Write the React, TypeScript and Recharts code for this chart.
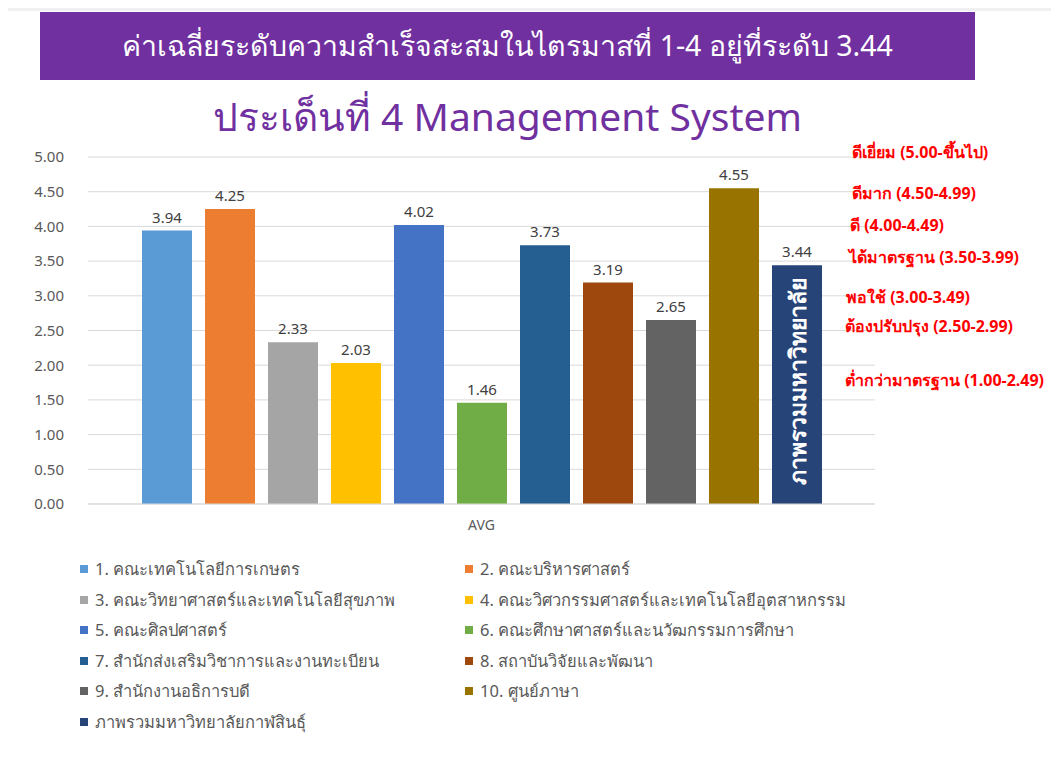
import React from "react";
import {
  Bar,
  BarChart,
  CartesianGrid,
  LabelList,
  XAxis,
  YAxis,
} from "recharts";

const seriesNames = [
  "1. คณะเทคโนโลยีการเกษตร",
  "2. คณะบริหารศาสตร์",
  "3. คณะวิทยาศาสตร์และเทคโนโลยีสุขภาพ",
  "4. คณะวิศวกรรมศาสตร์และเทคโนโลยีอุตสาหกรรม",
  "5. คณะศิลปศาสตร์",
  "6. คณะศึกษาศาสตร์และนวัฒกรรมการศึกษา",
  "7. สำนักส่งเสริมวิชาการและงานทะเบียน",
  "8. สถาบันวิจัยและพัฒนา",
  "9. สำนักงานอธิการบดี",
  "10. ศูนย์ภาษา",
  "ภาพรวมมหาวิทยาลัยกาฬสินธุ์",
];
const seriesValues = [3.94, 4.25, 2.33, 2.03, 4.02, 1.46, 3.73, 3.19, 2.65, 4.55, 3.44];
const seriesColors = [
  "#5B9BD5", "#ED7D31", "#A5A5A5", "#FFC000", "#4472C4", "#70AD47",
  "#255E91", "#9E480E", "#636363", "#997300", "#264478",
];
const category = "AVG";
const yTicks = [0, 0.5, 1, 1.5, 2, 2.5, 3, 3.5, 4, 4.5, 5];
const levelLabels = [
  "ดีเยี่ยม (5.00-ขึ้นไป)",
  "ดีมาก (4.50-4.99)",
  "ดี (4.00-4.49)",
  "ได้มาตรฐาน (3.50-3.99)",
  "พอใช้ (3.00-3.49)",
  "ต้องปรับปรุง (2.50-2.99)",
  "ต่ำกว่ามาตรฐาน (1.00-2.49)",
];
const levelPos = [
  [852, 152], [852, 193], [850, 225], [849, 257], [846, 297], [845, 326], [845, 380],
];
const overallText = "ภาพรวมมหาวิทยาลัย";

const FONT = "Tahoma, 'Noto Sans', 'DejaVu Sans', sans-serif";

const row: Record<string, string | number> = { name: category };
seriesValues.forEach((v, i) => (row["s" + i] = v));
const data = [row];

function VerticalLabel(props: any) {
  const { x, y, width, height } = props;
  const cx = x + width / 2;
  const cy = y + height / 2 - 3;
  return (
    <text
      x={cx}
      y={cy}
      transform={`rotate(-90 ${cx} ${cy})`}
      textAnchor="middle"
      dominantBaseline="central"
      fill="#ffffff"
      fontWeight="bold"
      fontSize={23}
      fontFamily={FONT}
    >
      {overallText}
    </text>
  );
}

export default function App() {
  return (
    <div
      style={{
        position: "relative",
        width: 1059,
        height: 772,
        background: "#f0f0f0",
        margin: -8,
        fontFamily: FONT,
        overflow: "hidden",
      }}
    >
      <div
        style={{
          position: "absolute",
          left: 7,
          top: 11,
          right: 0,
          bottom: 0,
          background: "#ffffff",
        }}
      />
      <div
        style={{
          position: "absolute",
          left: 40,
          top: 12,
          width: 935,
          height: 68,
          background: "#7030A0",
          color: "#ffffff",
          fontSize: 28.5,
          display: "flex",
          alignItems: "center",
          justifyContent: "center",
          whiteSpace: "nowrap",
        }}
      >
        ค่าเฉลี่ยระดับความสำเร็จสะสมในไตรมาสที่ 1-4 อยู่ที่ระดับ 3.44
      </div>
      <div
        style={{
          position: "absolute",
          left: 40,
          top: 86,
          width: 935,
          textAlign: "center",
          color: "#7030A0",
          fontSize: 39,
          whiteSpace: "nowrap",
        }}
      >
        ประเด็นที่ 4 Management System
      </div>

      <div style={{ position: "absolute", left: 0, top: 0 }}>
        <BarChart
          width={1059}
          height={544}
          data={data}
          margin={{ top: 157, right: 184, bottom: 0, left: 0 }}
          barSize={50}
          barGap={13}
        >
          <CartesianGrid vertical={false} stroke="#d9d9d9" />
          <XAxis
            dataKey="name"
            height={40}
            axisLine={{ stroke: "#d9d9d9" }}
            tickLine={false}
            tick={{ fill: "#595959", fontSize: 14, fontFamily: FONT }}
            tickMargin={10}
          />
          <YAxis
            width={88}
            domain={[0, 5]}
            ticks={yTicks}
            interval={0}
            axisLine={false}
            tickLine={false}
            tickMargin={18}
            tickFormatter={(v: number) => v.toFixed(2)}
            tick={{ fill: "#595959", fontSize: 15, fontFamily: FONT }}
          />
          {seriesValues.map((_, i) => (
            <Bar
              key={i}
              dataKey={"s" + i}
              name={seriesNames[i]}
              fill={seriesColors[i]}
              isAnimationActive={false}
            >
              <LabelList
                dataKey={"s" + i}
                position="top"
                offset={8}
                formatter={(v: any) => Number(v).toFixed(2)}
                style={{ fill: "#404040", fontSize: 15, fontFamily: FONT }}
              />
              {i === seriesValues.length - 1 && (
                <LabelList dataKey={"s" + i} content={VerticalLabel} />
              )}
            </Bar>
          ))}
        </BarChart>
      </div>

      {levelLabels.map((t, i) => (
        <div
          key={t}
          style={{
            position: "absolute",
            left: levelPos[i][0],
            top: levelPos[i][1] - 11,
            color: "#ff0000",
            fontSize: 16,
            fontWeight: "bold",
            whiteSpace: "nowrap",
            lineHeight: "22px",
          }}
        >
          {t}
        </div>
      ))}

      {seriesNames.map((n, i) => {
        const col = i % 2;
        const r = Math.floor(i / 2);
        return (
          <div
            key={n}
            style={{
              position: "absolute",
              left: col === 0 ? 80 : 465,
              top: 569 + r * 30.6 - 11,
              display: "flex",
              alignItems: "center",
              height: 22,
              color: "#595959",
              fontSize: 16.5,
              whiteSpace: "nowrap",
            }}
          >
            <span
              style={{
                display: "inline-block",
                width: 8,
                height: 8,
                background: seriesColors[i],
                marginRight: 7,
              }}
            />
            {n}
          </div>
        );
      })}
    </div>
  );
}
